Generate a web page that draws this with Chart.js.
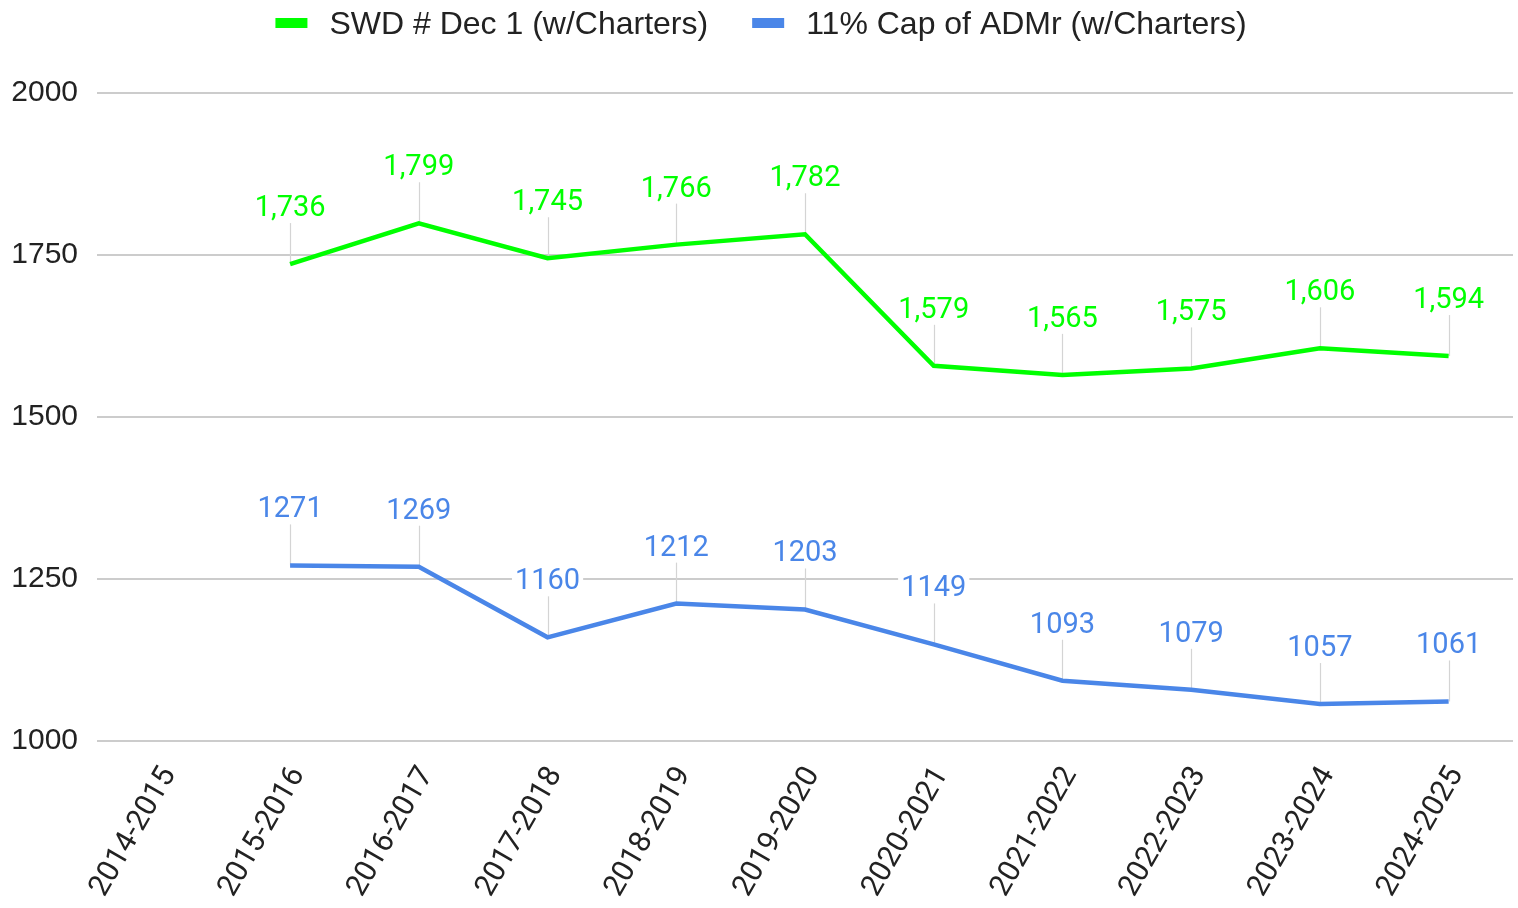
<!DOCTYPE html>
<html>
<head>
<meta charset="utf-8">
<script src="https://cdn.jsdelivr.net/npm/chart.js@4.4.1/dist/chart.umd.min.js"></script>
<style>
html,body{margin:0;padding:0;background:#ffffff;}
#wrap{width:1518px;height:908px;}
</style>
</head>
<body>
<div id="wrap"><canvas id="c" width="1518" height="908"></canvas></div>
<script>
const categories = ['2014-2015','2015-2016','2016-2017','2017-2018','2018-2019','2019-2020','2020-2021','2021-2022','2022-2023','2023-2024','2024-2025'];
const swdValues = [null,1736,1799,1745,1766,1782,1579,1565,1575,1606,1594];
const capValues = [null,1271,1269,1160,1212,1203,1149,1093,1079,1057,1061];
const yTickValues = [1000,1250,1500,1750,2000];
const seriesNames = ['SWD # Dec 1 (w/Charters)','11% Cap of ADMr (w/Charters)'];

const LABEL_FONT = '29px Roboto';
const LEGEND_FONT = '32px "Liberation Sans", Arial, sans-serif';

const leaderPlugin = {
  id: 'leaders',
  beforeDatasetsDraw(chart) {
    const ctx = chart.ctx;
    ctx.save();
    ctx.strokeStyle = '#d4d4d4';
    ctx.lineWidth = 1.2;
    chart.data.datasets.forEach((ds, di) => {
      const meta = chart.getDatasetMeta(di);
      meta.data.forEach((pt, i) => {
        if (ds.data[i] == null) return;
        const x = Math.round(pt.x) + 0.5;
        ctx.beginPath();
        ctx.moveTo(x, pt.y);
        ctx.lineTo(x, pt.y - 41);
        ctx.stroke();
      });
    });
    ctx.restore();
  },
  afterDatasetsDraw(chart) {
    const ctx = chart.ctx;
    ctx.save();
    ctx.font = LABEL_FONT;
    ctx.textAlign = 'center';
    ctx.textBaseline = 'alphabetic';
    chart.data.datasets.forEach((ds, di) => {
      const meta = chart.getDatasetMeta(di);
      meta.data.forEach((pt, i) => {
        const v = ds.data[i];
        if (v == null) return;
        const txt = ds.thousands ? v.toLocaleString('en-US') : String(v);
        const w = ctx.measureText(txt).width;
        const base = pt.y - 48;
        ctx.fillStyle = '#ffffff';
        ctx.fillRect(pt.x - w / 2 - 3, base - 23, w + 6, 27);
        ctx.fillStyle = ds.borderColor;
        ctx.fillText(txt, pt.x, base);
      });
    });
    ctx.restore();
  }
};

const legendPlugin = {
  id: 'customLegend',
  afterDraw(chart) {
    const ctx = chart.ctx;
    ctx.save();
    ctx.font = LEGEND_FONT;
    ctx.textBaseline = 'alphabetic';
    ctx.textAlign = 'left';
    const boxW = 32, boxH = 10, gap = 22, itemGap = 44;
    const items = chart.data.datasets.map(ds => ({
      text: ds.label, color: ds.borderColor, w: ctx.measureText(ds.label).width
    }));
    let total = 0;
    items.forEach((it, i) => { total += boxW + gap + it.w + (i ? itemGap : 0); });
    let x = 761 - total / 2;
    items.forEach((it, i) => {
      if (i) x += itemGap;
      ctx.fillStyle = it.color;
      ctx.fillRect(x, 18, boxW, boxH);
      x += boxW + gap;
      ctx.fillStyle = '#222222';
      ctx.fillText(it.text, x, 34);
      x += it.w;
    });
    ctx.restore();
  }
};

function build() {
  new Chart(document.getElementById('c'), {
    type: 'line',
    data: {
      labels: categories,
      datasets: [
        { label: seriesNames[0], data: swdValues, borderColor: '#00ff00', backgroundColor: '#00ff00',
          borderWidth: 4.5, pointRadius: 0, tension: 0, spanGaps: false, thousands: true },
        { label: seriesNames[1], data: capValues, borderColor: '#4a86e8', backgroundColor: '#4a86e8',
          borderWidth: 4.5, pointRadius: 0, tension: 0, spanGaps: false, thousands: false }
      ]
    },
    options: {
      responsive: false,
      animation: false,
      devicePixelRatio: 1,
      layout: { padding: { top: 93, left: 11, right: 5, bottom: 0 } },
      plugins: { legend: { display: false }, tooltip: { enabled: false } },
      scales: {
        x: {
          offset: true,
          grid: { display: false, drawTicks: false },
          border: { display: false },
          afterFit(scale) {
            scale.paddingLeft = 0;
            scale.paddingRight = 0;
            scale.height = 167;
          },
          ticks: {
            autoSkip: false, minRotation: 60, maxRotation: 60, padding: 20, labelOffset: 8,
            color: '#222222', font: { family: 'Roboto', size: 30 }
          }
        },
        y: {
          min: 1000, max: 2000,
          afterBuildTicks(scale) { scale.ticks = yTickValues.map(v => ({ value: v })); },
          afterFit(scale) { scale.width = 86; },
          grid: { color: '#cccccc', lineWidth: 2, drawTicks: false },
          border: { display: false },
          ticks: {
            padding: 19, color: '#222222',
            font: { family: '"Liberation Sans", Arial, sans-serif', size: 30 },
            callback: v => String(v)
          }
        }
      }
    },
    plugins: [leaderPlugin, legendPlugin]
  });
}

Promise.all([
  document.fonts.load('29px Roboto'),
  document.fonts.load('32px "Liberation Sans"')
]).then(build, build);
</script>
</body>
</html>
